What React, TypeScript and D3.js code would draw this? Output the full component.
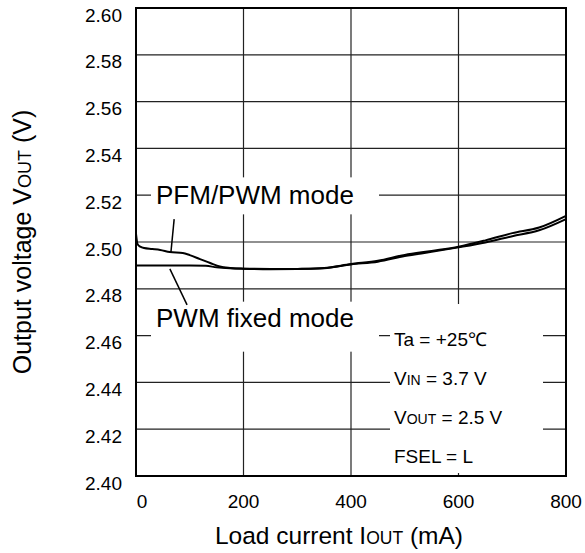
import * as d3 from 'd3';

// load current (mA) / output voltage (V)
const pfmCurrent = [0, 3, 8, 15, 30, 45, 63, 87, 100, 119, 138, 156, 175, 200, 250, 300, 350, 400, 450, 500, 550, 600, 650, 700, 750, 800];
const pfmVoltage = [2.5035, 2.499, 2.498, 2.4974, 2.497, 2.4966, 2.4957, 2.4953, 2.4944, 2.4927, 2.491, 2.4895, 2.4889, 2.4886, 2.4885, 2.4885, 2.4889, 2.4906, 2.492, 2.4945, 2.4962, 2.498, 2.5007, 2.5038, 2.5062, 2.5112];

const pwmCurrent = [0, 50, 100, 130, 150, 175, 200, 250, 300, 350, 400, 450, 500, 550, 600, 650, 700, 750, 800];
const pwmVoltage = [2.49, 2.49, 2.49, 2.4898, 2.4892, 2.4888, 2.4886, 2.4884, 2.4885, 2.4888, 2.4904, 2.4916, 2.494, 2.4958, 2.4977, 2.4998, 2.5025, 2.505, 2.5098];

const xTicks = [0, 200, 400, 600, 800];
const yTicks = [2.4, 2.42, 2.44, 2.46, 2.48, 2.5, 2.52, 2.54, 2.56, 2.58, 2.6];

const conditions = [
    { main: 'Ta = +25℃', sub: '', rest: '' },
    { main: 'V', sub: 'IN', rest: ' = 3.7 V' },
    { main: 'V', sub: 'OUT', rest: ' = 2.5 V' },
    { main: 'FSEL = L', sub: '', rest: '' },
];

const font = '"Liberation Sans", Arial, sans-serif';

export default function App() {
    const margin = { top: 8, right: 19, bottom: 77, left: 136 },
        width = 585 - margin.left - margin.right,
        height = 553 - margin.top - margin.bottom;

    const x = d3.scaleLinear().domain([0, 800]).range([0, width]);
    const y = d3.scaleLinear().domain([2.4, 2.6]).range([height, 0]);

    const line = d3
        .line<[number, number]>()
        .x((d) => x(d[0]))
        .y((d) => y(d[1]))
        .curve(d3.curveMonotoneX);

    const pfm = pfmCurrent.map((c, i) => [c, pfmVoltage[i]] as [number, number]);
    const pwm = pwmCurrent.map((c, i) => [c, pwmVoltage[i]] as [number, number]);

    return (
        <svg width={585} height={553} style={{ position: 'absolute', left: 0, top: 0 }} fontFamily={font}>
            <rect width={585} height={553} fill="#fff" />
            <g transform={`translate(${margin.left},${margin.top})`}>
                {/* grid */}
                {yTicks.slice(1, -1).map((t) => (
                    <line key={t} x1={0} x2={width} y1={y(t)} y2={y(t)} stroke="#222" strokeWidth={1.2} />
                ))}
                {xTicks.slice(1, -1).map((t) => (
                    <line key={t} x1={x(t)} x2={x(t)} y1={0} y2={height} stroke="#222" strokeWidth={1.2} />
                ))}

                {/* label knockouts */}
                <rect x={15} y={y(2.5225) - 12} width={228} height={37} fill="#fff" />
                <rect x={15} y={y(2.4745)} width={228} height={50} fill="#fff" />
                <rect x={254} y={y(2.4735)} width={153} height={height - y(2.4735) - 3} fill="#fff" />

                <line x1={x(71)} y1={y(2.5098)} x2={x(65)} y2={y(2.4957)} stroke="#000" strokeWidth={1.5} />
                <line x1={x(63)} y1={y(2.4885)} x2={x(95)} y2={y(2.4731)} stroke="#000" strokeWidth={1.5} />

                <path d={line(pwm) ?? ''} fill="none" stroke="#000" strokeWidth={2} />
                <path d={line(pfm) ?? ''} fill="none" stroke="#000" strokeWidth={2} />

                <text x={20} y={y(2.52)} dy="0.35em" fontSize={26}>PFM/PWM mode</text>
                <text x={20} y={y(2.4675)} dy="0.35em" fontSize={26}>PWM fixed mode</text>

                {conditions.map((c, i) => (
                    <text key={i} x={258} y={y(2.4585) + i * 39} dy="0.35em" fontSize={19}>
                        {c.main}
                        {c.sub && <tspan fontSize={14}>{c.sub}</tspan>}
                        {c.rest}
                    </text>
                ))}

                {/* frame */}
                <rect x={0} y={0} width={width} height={height} fill="none" stroke="#000" strokeWidth={2} />

                {yTicks.map((t) => (
                    <text key={t} x={-14} y={y(t) + 7} dy="0.35em" textAnchor="end" fontSize={19}>
                        {t.toFixed(2)}
                    </text>
                ))}
                {xTicks.map((t) => (
                    <text key={t} x={x(t) + (t === 0 ? 6 : 0)} y={height + 25} dy="0.35em" textAnchor="middle" fontSize={19}>
                        {t}
                    </text>
                ))}

                <text x={width / 2 - 12} y={height + 59} dy="0.35em" textAnchor="middle" fontSize={24.5}>
                    Load current I<tspan fontSize={17.5}>OUT</tspan> (mA)
                </text>
                <text
                    transform={`translate(${-114},${height / 2}) rotate(-90)`}
                    dy="0.35em"
                    textAnchor="middle"
                    fontSize={25}
                >
                    Output voltage V<tspan fontSize={18}>OUT</tspan> (V)
                </text>
            </g>
        </svg>
    );
}
